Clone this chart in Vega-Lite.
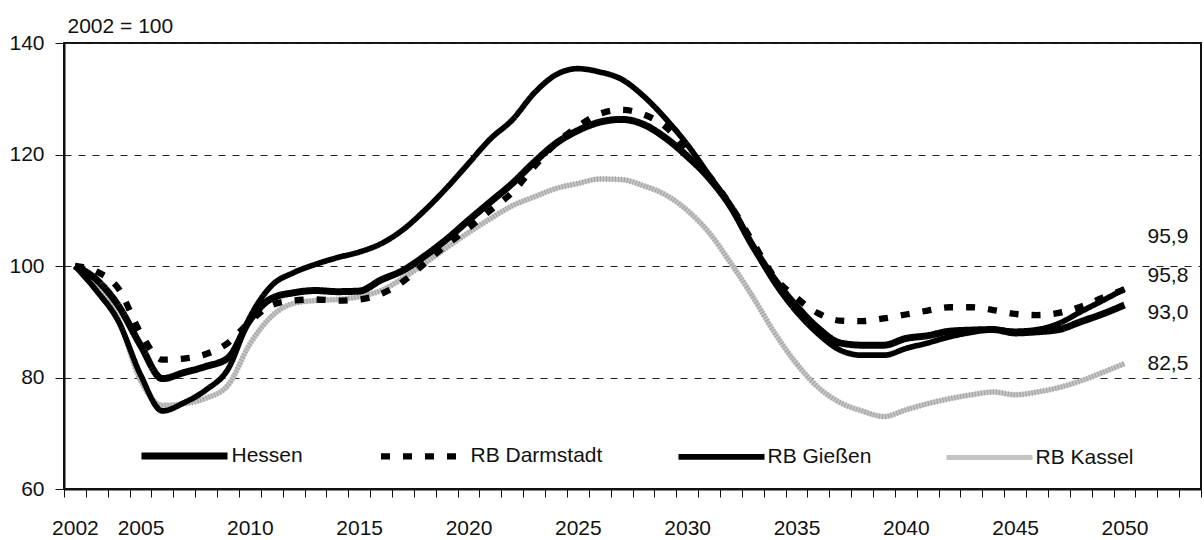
{
  "$schema": "https://vega.github.io/schema/vega-lite/v6.json",
  "width": 1137,
  "height": 446,
  "autosize": "none",
  "padding": {"left": 64, "top": 43, "right": 3, "bottom": 51},
  "background": "white",
  "config": {
    "font": "Liberation Sans",
    "view": {"stroke": "#111", "strokeWidth": 2},
    "locale": {"number": {"decimal": ",", "thousands": ".", "grouping": [3], "currency": ["", " €"]}},
    "axis": {
      "domainColor": "#111", "domainWidth": 2, "tickColor": "#111", "tickWidth": 1,
      "labelColor": "#111", "labelFont": "Liberation Sans", "labelFontSize": 21,
      "titleFont": "Liberation Sans", "titleFontSize": 21, "titleFontWeight": "normal", "titleColor": "#111"
    },
    "legend": {"labelFont": "Liberation Sans", "labelFontSize": 21, "labelColor": "#111"}
  },
  "data": {"values": [
    {"year": 2002, "Hessen": 100, "RB Darmstadt": 100, "RB Gießen": 100, "RB Kassel": 100},
    {"year": 2003, "Hessen": 97.5, "RB Darmstadt": 99.0, "RB Gießen": 95.5, "RB Kassel": 96.3},
    {"year": 2004, "Hessen": 92.8, "RB Darmstadt": 95.9, "RB Gießen": 90.0, "RB Kassel": 90.3},
    {"year": 2005, "Hessen": 85.8, "RB Darmstadt": 88.0, "RB Gießen": 80.5, "RB Kassel": 79.5},
    {"year": 2006, "Hessen": 79.8, "RB Darmstadt": 83.2, "RB Gießen": 74.0, "RB Kassel": 75.0},
    {"year": 2007, "Hessen": 80.9, "RB Darmstadt": 83.4, "RB Gießen": 75.5, "RB Kassel": 75.3},
    {"year": 2008, "Hessen": 82.0, "RB Darmstadt": 84.2, "RB Gießen": 77.8, "RB Kassel": 76.3},
    {"year": 2009, "Hessen": 83.5, "RB Darmstadt": 86.2, "RB Gießen": 81.5, "RB Kassel": 78.6},
    {"year": 2010, "Hessen": 90.3, "RB Darmstadt": 90.0, "RB Gießen": 90.8, "RB Kassel": 86.0},
    {"year": 2011, "Hessen": 94.2, "RB Darmstadt": 93.0, "RB Gießen": 96.5, "RB Kassel": 91.0},
    {"year": 2012, "Hessen": 95.2, "RB Darmstadt": 93.8, "RB Gießen": 98.8, "RB Kassel": 93.3},
    {"year": 2013, "Hessen": 95.6, "RB Darmstadt": 94.0, "RB Gießen": 100.3, "RB Kassel": 93.8},
    {"year": 2014, "Hessen": 95.4, "RB Darmstadt": 93.8, "RB Gießen": 101.5, "RB Kassel": 94.0},
    {"year": 2015, "Hessen": 95.5, "RB Darmstadt": 94.0, "RB Gießen": 102.5, "RB Kassel": 94.5},
    {"year": 2016, "Hessen": 97.5, "RB Darmstadt": 95.0, "RB Gießen": 104.0, "RB Kassel": 95.6},
    {"year": 2017, "Hessen": 99.2, "RB Darmstadt": 97.2, "RB Gießen": 106.5, "RB Kassel": 97.8},
    {"year": 2018, "Hessen": 101.8, "RB Darmstadt": 100.5, "RB Gießen": 110.0, "RB Kassel": 100.5},
    {"year": 2019, "Hessen": 104.8, "RB Darmstadt": 103.8, "RB Gießen": 114.0, "RB Kassel": 103.3},
    {"year": 2020, "Hessen": 108.2, "RB Darmstadt": 106.8, "RB Gießen": 118.4, "RB Kassel": 106.0},
    {"year": 2021, "Hessen": 111.5, "RB Darmstadt": 110.0, "RB Gießen": 122.8, "RB Kassel": 108.5},
    {"year": 2022, "Hessen": 114.8, "RB Darmstadt": 113.2, "RB Gießen": 126.2, "RB Kassel": 110.8},
    {"year": 2023, "Hessen": 118.6, "RB Darmstadt": 117.8, "RB Gießen": 131.0, "RB Kassel": 112.4},
    {"year": 2024, "Hessen": 122.0, "RB Darmstadt": 122.0, "RB Gießen": 134.3, "RB Kassel": 113.9},
    {"year": 2025, "Hessen": 124.3, "RB Darmstadt": 125.0, "RB Gießen": 135.4, "RB Kassel": 114.8},
    {"year": 2026, "Hessen": 125.8, "RB Darmstadt": 127.3, "RB Gießen": 134.8, "RB Kassel": 115.6},
    {"year": 2027, "Hessen": 126.3, "RB Darmstadt": 128.0, "RB Gießen": 133.5, "RB Kassel": 115.5},
    {"year": 2028, "Hessen": 125.4, "RB Darmstadt": 127.2, "RB Gießen": 130.5, "RB Kassel": 114.4},
    {"year": 2029, "Hessen": 123.0, "RB Darmstadt": 125.0, "RB Gießen": 126.5, "RB Kassel": 112.8},
    {"year": 2030, "Hessen": 119.7, "RB Darmstadt": 120.8, "RB Gießen": 121.8, "RB Kassel": 110.0},
    {"year": 2031, "Hessen": 115.8, "RB Darmstadt": 116.2, "RB Gießen": 116.3, "RB Kassel": 106.0},
    {"year": 2032, "Hessen": 110.6, "RB Darmstadt": 110.8, "RB Gießen": 110.7, "RB Kassel": 100.5},
    {"year": 2033, "Hessen": 103.6, "RB Darmstadt": 104.3, "RB Gießen": 103.6, "RB Kassel": 94.5},
    {"year": 2034, "Hessen": 97.6, "RB Darmstadt": 98.0, "RB Gießen": 97.0, "RB Kassel": 88.0},
    {"year": 2035, "Hessen": 92.8, "RB Darmstadt": 94.3, "RB Gießen": 91.8, "RB Kassel": 82.5},
    {"year": 2036, "Hessen": 88.8, "RB Darmstadt": 91.5, "RB Gießen": 87.8, "RB Kassel": 78.2},
    {"year": 2037, "Hessen": 86.2, "RB Darmstadt": 90.2, "RB Gießen": 84.9, "RB Kassel": 75.5},
    {"year": 2038, "Hessen": 85.8, "RB Darmstadt": 90.1, "RB Gießen": 84.0, "RB Kassel": 74.0},
    {"year": 2039, "Hessen": 85.8, "RB Darmstadt": 90.6, "RB Gießen": 84.0, "RB Kassel": 73.0},
    {"year": 2040, "Hessen": 87.0, "RB Darmstadt": 91.3, "RB Gießen": 85.2, "RB Kassel": 74.2},
    {"year": 2041, "Hessen": 87.5, "RB Darmstadt": 92.0, "RB Gießen": 86.2, "RB Kassel": 75.3},
    {"year": 2042, "Hessen": 88.3, "RB Darmstadt": 92.6, "RB Gießen": 87.3, "RB Kassel": 76.2},
    {"year": 2043, "Hessen": 88.5, "RB Darmstadt": 92.6, "RB Gießen": 88.1, "RB Kassel": 76.9},
    {"year": 2044, "Hessen": 88.6, "RB Darmstadt": 92.1, "RB Gießen": 88.6, "RB Kassel": 77.4},
    {"year": 2045, "Hessen": 88.0, "RB Darmstadt": 91.4, "RB Gießen": 88.3, "RB Kassel": 76.9},
    {"year": 2046, "Hessen": 88.2, "RB Darmstadt": 91.2, "RB Gießen": 88.6, "RB Kassel": 77.4},
    {"year": 2047, "Hessen": 88.6, "RB Darmstadt": 91.6, "RB Gießen": 89.7, "RB Kassel": 78.2},
    {"year": 2048, "Hessen": 90.0, "RB Darmstadt": 92.7, "RB Gießen": 91.8, "RB Kassel": 79.4},
    {"year": 2049, "Hessen": 91.4, "RB Darmstadt": 94.3, "RB Gießen": 93.8, "RB Kassel": 80.9},
    {"year": 2050, "Hessen": 93.0, "RB Darmstadt": 95.8, "RB Gießen": 95.9, "RB Kassel": 82.5}
  ]},
  "transform": [
    {"fold": ["Hessen", "RB Darmstadt", "RB Gießen", "RB Kassel"], "as": ["series", "value"]}
  ],
  "encoding": {
    "x": {
      "field": "year", "type": "quantitative",
      "scale": {"domain": [2001.5, 2053.5], "nice": false, "zero": false},
      "axis": {
        "title": null, "grid": false, "tickSize": 8, "labelPadding": 20, "labelOffset": 10.93,
        "labelOverlap": false, "labelFlush": false,
        "values": [2001.5,2002.5,2003.5,2004.5,2005.5,2006.5,2007.5,2008.5,2009.5,2010.5,2011.5,2012.5,2013.5,2014.5,2015.5,2016.5,2017.5,2018.5,2019.5,2020.5,2021.5,2022.5,2023.5,2024.5,2025.5,2026.5,2027.5,2028.5,2029.5,2030.5,2031.5,2032.5,2033.5,2034.5,2035.5,2036.5,2037.5,2038.5,2039.5,2040.5,2041.5,2042.5,2043.5,2044.5,2045.5,2046.5,2047.5,2048.5,2049.5,2050.5,2051.5,2052.5,2053.5],
        "labelExpr": "indexof([2002,2005,2010,2015,2020,2025,2030,2035,2040,2045,2050], datum.value + 0.5) >= 0 ? '' + (datum.value + 0.5) : ''"
      }
    },
    "y": {
      "field": "value", "type": "quantitative",
      "scale": {"domain": [60, 140], "nice": false, "zero": false},
      "axis": {
        "values": [60, 80, 100, 120, 140], "tickSize": 9, "labelPadding": 11,
        "grid": true, "gridDash": [7, 7], "gridColor": "#222", "gridWidth": 1,
        "title": "2002 = 100", "titleAngle": 0, "titleAlign": "left", "titleBaseline": "alphabetic",
        "titleX": 3, "titleY": -11
      }
    }
  },
  "layer": [
    {
      "transform": [{"filter": "datum.series == 'RB Kassel'"}],
      "mark": {"type": "line", "interpolate": "monotone", "strokeCap": "butt", "strokeJoin": "round"},
      "encoding": {
        "color": {
          "field": "series", "type": "nominal",
          "scale": {"domain": ["Hessen", "RB Darmstadt", "RB Gießen", "RB Kassel"], "range": ["#000000", "#000000", "#000000", "#c4c4c4"]},
          "legend": {
            "title": null, "orient": "none", "legendX": 73.5, "legendY": 366, "direction": "horizontal",
            "symbolType": "stroke", "symbolSize": 7400, "labelOffset": 0, "columnPadding": 64, "padding": 0
          }
        },
        "strokeDash": {
          "field": "series", "type": "nominal",
          "scale": {"domain": ["Hessen", "RB Darmstadt", "RB Gießen", "RB Kassel"], "range": [[1, 0], [9, 13], [1, 0], [1, 0]]},
          "legend": {
            "title": null, "orient": "none", "legendX": 73.5, "legendY": 366, "direction": "horizontal",
            "symbolType": "stroke", "symbolSize": 7400, "labelOffset": 0, "columnPadding": 64, "padding": 0
          }
        },
        "strokeWidth": {
          "field": "series", "type": "nominal",
          "scale": {"domain": ["Hessen", "RB Darmstadt", "RB Gießen", "RB Kassel"], "range": [7, 5, 3.5, 6]},
          "legend": {
            "title": null, "orient": "none", "legendX": 73.5, "legendY": 366, "direction": "horizontal",
            "symbolType": "stroke", "symbolSize": 7400, "labelOffset": 0, "columnPadding": 64, "padding": 0
          }
        }
      }
    },
    {
      "transform": [{"filter": "datum.series == 'RB Kassel'"}],
      "mark": {"type": "line", "interpolate": "monotone", "strokeCap": "butt", "stroke": "#8c8c8c", "strokeWidth": 6, "strokeDash": [1, 2], "opacity": 0.6},
      "encoding": {"detail": {"field": "series", "type": "nominal"}}
    },
    {
      "transform": [{"filter": "datum.series != 'RB Kassel'"}],
      "mark": {"type": "line", "interpolate": "monotone", "strokeCap": "butt", "strokeJoin": "round"},
      "encoding": {
        "color": {
          "field": "series", "type": "nominal",
          "scale": {"domain": ["Hessen", "RB Darmstadt", "RB Gießen", "RB Kassel"], "range": ["#000000", "#000000", "#000000", "#c4c4c4"]},
          "legend": {
            "title": null, "orient": "none", "legendX": 73.5, "legendY": 366, "direction": "horizontal",
            "symbolType": "stroke", "symbolSize": 7400, "labelOffset": 0, "columnPadding": 64, "padding": 0
          }
        },
        "strokeDash": {
          "field": "series", "type": "nominal",
          "scale": {"domain": ["Hessen", "RB Darmstadt", "RB Gießen", "RB Kassel"], "range": [[1, 0], [9, 13], [1, 0], [1, 0]]},
          "legend": {
            "title": null, "orient": "none", "legendX": 73.5, "legendY": 366, "direction": "horizontal",
            "symbolType": "stroke", "symbolSize": 7400, "labelOffset": 0, "columnPadding": 64, "padding": 0
          }
        },
        "strokeWidth": {
          "field": "series", "type": "nominal",
          "scale": {"domain": ["Hessen", "RB Darmstadt", "RB Gießen", "RB Kassel"], "range": [7, 5, 3.5, 6]},
          "legend": {
            "title": null, "orient": "none", "legendX": 73.5, "legendY": 366, "direction": "horizontal",
            "symbolType": "stroke", "symbolSize": 7400, "labelOffset": 0, "columnPadding": 64, "padding": 0
          }
        }
      }
    },
    {
      "transform": [{"filter": "datum.year == 2050 && datum.series == 'RB Gießen'"}],
      "mark": {"type": "text", "align": "left", "baseline": "middle", "dx": 23, "dy": -52, "fontSize": 21, "color": "#111"},
      "encoding": {"text": {"field": "value", "type": "quantitative", "format": ".1f"}}
    },
    {
      "transform": [{"filter": "datum.year == 2050 && datum.series == 'RB Darmstadt'"}],
      "mark": {"type": "text", "align": "left", "baseline": "middle", "dx": 23, "dy": -13, "fontSize": 21, "color": "#111"},
      "encoding": {"text": {"field": "value", "type": "quantitative", "format": ".1f"}}
    },
    {
      "transform": [{"filter": "datum.year == 2050 && datum.series == 'Hessen'"}],
      "mark": {"type": "text", "align": "left", "baseline": "middle", "dx": 23, "dy": 8, "fontSize": 21, "color": "#111"},
      "encoding": {"text": {"field": "value", "type": "quantitative", "format": ".1f"}}
    },
    {
      "transform": [{"filter": "datum.year == 2050 && datum.series == 'RB Kassel'"}],
      "mark": {"type": "text", "align": "left", "baseline": "middle", "dx": 23, "dy": 0, "fontSize": 21, "color": "#111"},
      "encoding": {"text": {"field": "value", "type": "quantitative", "format": ".1f"}}
    }
  ]
}
